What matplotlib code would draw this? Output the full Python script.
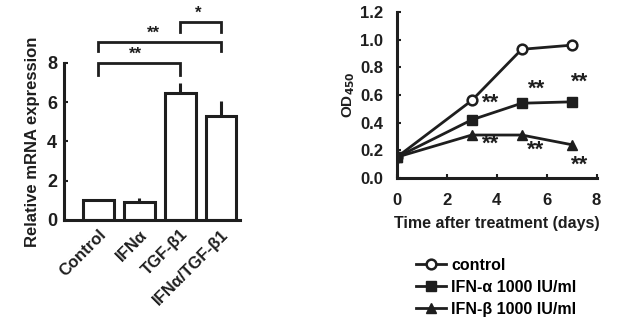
import numpy as np
import matplotlib
matplotlib.use('Agg')
import matplotlib.pyplot as plt

plt.rcParams['font.family'] = ['Liberation Sans', 'DejaVu Sans']
plt.rcParams['font.weight'] = 'bold'
plt.rcParams['axes.labelweight'] = 'bold'
plt.rcParams['mathtext.default'] = 'bf'

# Левая панель: относительная экспрессия мРНК
groups = ['Control', 'IFNα', 'TGF-β1', 'IFNα/TGF-β1']
mrna = [1.0, 0.92, 6.45, 5.3]
mrna_err = [0.0, 0.2, 0.5, 0.75]

# Правая панель: OD450 по дням
days = [0, 3, 5, 7]
od_control = [0.15, 0.56, 0.93, 0.96]
od_ifna = [0.15, 0.42, 0.54, 0.55]
od_ifnb = [0.15, 0.31, 0.31, 0.24]

ink = '#1e1e1e'

fig = plt.figure(figsize=(6.32, 3.24), dpi=100)

# ---- левая панель ----
ax1 = fig.add_axes([0.101, 0.321, 0.278, 0.485])
x = np.arange(len(groups))
ax1.bar(x, mrna, width=0.75, color='white', edgecolor=ink, linewidth=2.2)
ax1.errorbar(x, mrna, yerr=[np.zeros(len(mrna)), mrna_err], fmt='none',
             ecolor=ink, elinewidth=2.2, capsize=0)
ax1.set_xlim(-0.84, 3.45)
ax1.set_ylim(0, 8)
ax1.set_yticks([0, 2, 4, 6, 8])
ax1.set_xticks(x)
ax1.set_xticklabels(groups, rotation=45, ha='right', rotation_mode='anchor',
                    fontweight='bold')
ax1.tick_params(axis='y', direction='in', length=3, width=1.5, labelsize=13, pad=5, colors=ink)
ax1.tick_params(axis='x', length=0, labelsize=12, pad=5, colors=ink)
for lab in ax1.get_yticklabels():
    lab.set_fontweight('bold')
ax1.spines['top'].set_visible(False)
ax1.spines['right'].set_visible(False)
for s in ('left', 'bottom'):
    ax1.spines[s].set_linewidth(2.2)
    ax1.spines[s].set_color(ink)
ax1.set_ylabel('Relative mRNA expression', fontsize=12, labelpad=5, color=ink)


def bracket(ax, i, j, y, drop, label):
    ax.plot([i, i, j, j], [y - drop, y, y, y - drop], color=ink, lw=2,
            clip_on=False, solid_joinstyle='miter')
    ax.text((i + j) / 2 - 0.05 * (j - i), y + 0.05, label, ha='center', va='bottom',
            fontsize=12, color=ink)


bracket(ax1, 0, 2, 8.0, 0.6, '**')
bracket(ax1, 0, 3, 9.06, 0.46, '**')
bracket(ax1, 2, 3, 10.09, 0.5, '*')

# ---- правая панель ----
ax2 = fig.add_axes([0.628, 0.451, 0.316, 0.512])
ax2.plot(days, od_control, color=ink, lw=2, marker='o', ms=7,
         mfc='white', mec=ink, mew=1.8, label='control', zorder=3)
ax2.plot(days, od_ifna, color=ink, lw=2, marker='s', ms=7,
         mfc=ink, mec=ink, label='IFN-α 1000 IU/ml', zorder=3)
ax2.plot(days, od_ifnb, color=ink, lw=2, marker='^', ms=7,
         mfc=ink, mec=ink, label='IFN-β 1000 IU/ml', zorder=3)

# звёздочки значимости
for xs, ys in [(3.75, 0.54), (5.6, 0.64), (7.3, 0.69),
               (3.75, 0.24), (5.55, 0.20), (7.3, 0.09)]:
    ax2.text(xs, ys, '**', ha='center', va='center', fontsize=16, color=ink)

ax2.set_xlim(0, 8)
ax2.set_ylim(0, 1.2)
ax2.set_xticks([0, 2, 4, 6, 8])
ax2.set_yticks([0.0, 0.2, 0.4, 0.6, 0.8, 1.0, 1.2])
ax2.set_yticklabels(['0.0', '0.2', '0.4', '0.6', '0.8', '1.0', '1.2'])
ax2.tick_params(axis='both', direction='in', length=3, width=1.5, labelsize=12, colors=ink)
ax2.tick_params(axis='x', pad=11, labelsize=12)
ax2.tick_params(axis='y', pad=10)
for lab in ax2.get_xticklabels() + ax2.get_yticklabels():
    lab.set_fontweight('bold')
ax2.spines['top'].set_visible(False)
ax2.spines['right'].set_visible(False)
for s in ('left', 'bottom'):
    ax2.spines[s].set_linewidth(2.2)
    ax2.spines[s].set_color(ink)
ax2.set_xlabel('Time after treatment (days)', fontsize=11.5, labelpad=6, color=ink)
ax2.set_ylabel(r'OD$_{450}$', fontsize=11, labelpad=2, color=ink)

fig.legend(loc='upper left', bbox_to_anchor=(0.658, 0.205), frameon=False,
           handlelength=1.9, handletextpad=0.3, labelspacing=0.45,
           borderaxespad=0, borderpad=0, prop={'weight': 'bold', 'size': 11.5})

fig.savefig('out.png', dpi=100)
